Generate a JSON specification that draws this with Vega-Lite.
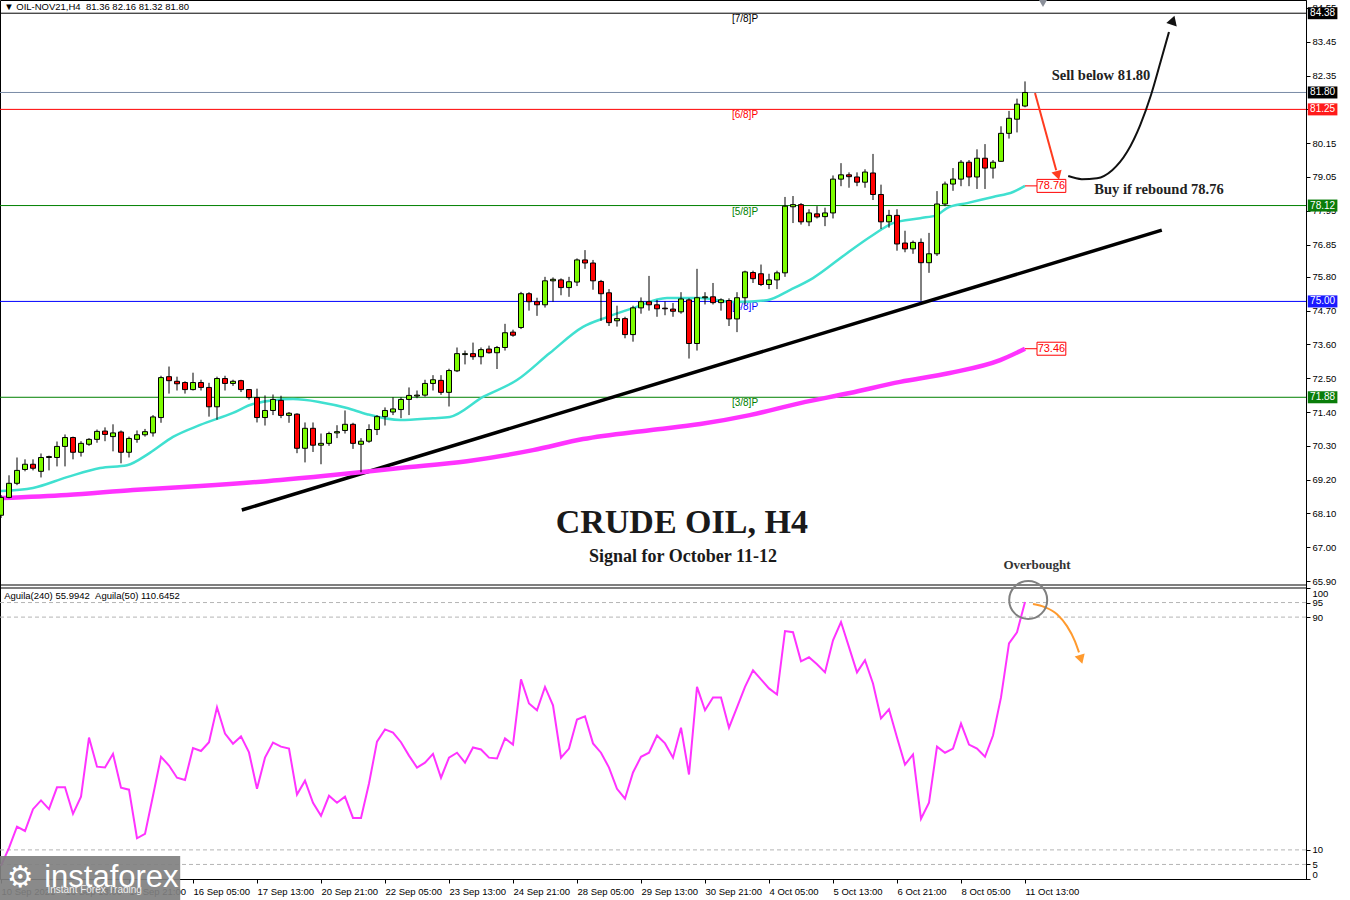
{
"$schema":"https://vega.github.io/schema/vega-lite/v6.json",
"width":1306,
"height":879,
"autosize":{"type":"none"},
"padding":{"left":0,"top":0,"right":44,"bottom":21},
"background":"white",
"config":{"view":{"stroke":"#000000","strokeWidth":1},"axis":{"labelFont":"Liberation Sans","labelFontSize":9.5,"labelColor":"#000000","domainColor":"#000000","tickColor":"#000000","grid":false,"title":null,"tickSize":4,"labelPadding":2,"labelOverlap":false},"text":{"font":"Liberation Sans"}},
"datasets":{
"candles":[
{"k":0,"o":68.04,"h":68.7,"l":67.95,"c":68.62},{"k":1,"o":68.62,"h":69.34,"l":68.59,"c":69.08},{"k":2,"o":69.08,"h":69.92,"l":69.02,"c":69.5},{"k":3,"o":69.53,"h":69.86,"l":69.47,"c":69.7},{"k":4,"o":69.7,"h":69.86,"l":69.5,"c":69.57},{"k":5,"o":69.47,"h":70.05,"l":69.27,"c":69.92},{"k":6,"o":69.92,"h":69.98,"l":69.5,"c":69.95},{"k":7,"o":69.92,"h":70.44,"l":69.63,"c":70.28},{"k":8,"o":70.28,"h":70.67,"l":69.63,"c":70.57},{"k":9,"o":70.57,"h":70.6,"l":69.86,"c":70.09},
{"k":10,"o":70.09,"h":70.45,"l":69.95,"c":70.38},{"k":11,"o":70.35,"h":70.55,"l":70.3,"c":70.51},{"k":12,"o":70.51,"h":70.83,"l":70.4,"c":70.77},{"k":13,"o":70.78,"h":70.9,"l":70.45,"c":70.67},{"k":14,"o":70.6,"h":71.0,"l":70.12,"c":70.72},{"k":15,"o":70.75,"h":70.8,"l":69.73,"c":70.09},{"k":16,"o":70.09,"h":70.6,"l":69.92,"c":70.54},{"k":17,"o":70.51,"h":70.8,"l":70.4,"c":70.66},{"k":18,"o":70.66,"h":70.85,"l":70.6,"c":70.76},{"k":19,"o":70.72,"h":71.3,"l":70.6,"c":71.24},
{"k":20,"o":71.22,"h":72.58,"l":71.05,"c":72.52},{"k":21,"o":72.55,"h":72.88,"l":72.0,"c":72.42},{"k":22,"o":72.4,"h":72.55,"l":72.1,"c":72.32},{"k":23,"o":72.36,"h":72.4,"l":72.0,"c":72.13},{"k":24,"o":72.13,"h":72.68,"l":72.1,"c":72.36},{"k":25,"o":72.36,"h":72.45,"l":72.1,"c":72.2},{"k":26,"o":72.2,"h":72.35,"l":71.25,"c":71.57},{"k":27,"o":71.57,"h":72.55,"l":71.15,"c":72.49},{"k":28,"o":72.49,"h":72.58,"l":72.1,"c":72.33},{"k":29,"o":72.33,"h":72.45,"l":72.25,"c":72.4},
{"k":30,"o":72.42,"h":72.45,"l":72.05,"c":72.13},{"k":31,"o":72.13,"h":72.15,"l":71.8,"c":71.87},{"k":32,"o":71.87,"h":72.16,"l":71.06,"c":71.22},{"k":33,"o":71.22,"h":71.94,"l":70.96,"c":71.45},{"k":34,"o":71.45,"h":71.97,"l":71.3,"c":71.81},{"k":35,"o":71.78,"h":71.93,"l":71.2,"c":71.29},{"k":36,"o":71.29,"h":71.4,"l":71.05,"c":71.36},{"k":37,"o":71.33,"h":71.36,"l":70.06,"c":70.22},{"k":38,"o":70.22,"h":71.06,"l":69.76,"c":70.87},{"k":39,"o":70.87,"h":71.06,"l":70.1,"c":70.32},
{"k":40,"o":70.32,"h":70.7,"l":69.7,"c":70.38},{"k":41,"o":70.38,"h":70.76,"l":70.3,"c":70.7},{"k":42,"o":70.72,"h":70.97,"l":70.55,"c":70.76},{"k":43,"o":70.8,"h":71.45,"l":70.7,"c":71.0},{"k":44,"o":71.0,"h":71.05,"l":70.2,"c":70.38},{"k":45,"o":70.35,"h":70.55,"l":69.44,"c":70.45},{"k":46,"o":70.45,"h":71.0,"l":70.4,"c":70.83},{"k":47,"o":70.83,"h":71.3,"l":70.65,"c":71.25},{"k":48,"o":71.25,"h":71.55,"l":70.96,"c":71.45},{"k":49,"o":71.4,"h":71.88,"l":71.3,"c":71.5},
{"k":50,"o":71.48,"h":71.88,"l":71.2,"c":71.81},{"k":51,"o":71.81,"h":72.2,"l":71.3,"c":71.94},{"k":52,"o":71.92,"h":72.1,"l":71.85,"c":71.95},{"k":53,"o":71.95,"h":72.45,"l":71.9,"c":72.33},{"k":54,"o":72.33,"h":72.6,"l":72.1,"c":72.45},{"k":55,"o":72.43,"h":72.6,"l":71.96,"c":72.04},{"k":56,"o":72.04,"h":72.81,"l":71.58,"c":72.75},{"k":57,"o":72.74,"h":73.5,"l":72.7,"c":73.3},{"k":58,"o":73.27,"h":73.4,"l":72.95,"c":73.3},{"k":59,"o":73.3,"h":73.66,"l":73.1,"c":73.2},
{"k":60,"o":73.2,"h":73.5,"l":72.95,"c":73.43},{"k":61,"o":73.45,"h":73.56,"l":73.3,"c":73.33},{"k":62,"o":73.33,"h":73.55,"l":72.8,"c":73.5},{"k":63,"o":73.5,"h":74.27,"l":73.4,"c":73.98},{"k":64,"o":74.0,"h":74.08,"l":73.85,"c":73.9},{"k":65,"o":74.15,"h":75.31,"l":74.1,"c":75.25},{"k":66,"o":75.25,"h":75.3,"l":74.7,"c":74.99},{"k":67,"o":74.99,"h":75.12,"l":74.53,"c":74.89},{"k":68,"o":74.89,"h":75.8,"l":74.8,"c":75.67},{"k":69,"o":75.67,"h":75.78,"l":74.99,"c":75.72},
{"k":70,"o":75.7,"h":75.75,"l":75.2,"c":75.45},{"k":71,"o":75.45,"h":75.8,"l":75.15,"c":75.64},{"k":72,"o":75.63,"h":76.4,"l":75.5,"c":76.35},{"k":73,"o":76.35,"h":76.67,"l":76.06,"c":76.25},{"k":74,"o":76.25,"h":76.35,"l":75.38,"c":75.67},{"k":75,"o":75.65,"h":75.7,"l":74.37,"c":75.25},{"k":76,"o":75.28,"h":75.4,"l":74.2,"c":74.31},{"k":77,"o":74.37,"h":74.86,"l":74.18,"c":74.44},{"k":78,"o":74.44,"h":74.5,"l":73.8,"c":73.92},{"k":79,"o":73.92,"h":74.86,"l":73.69,"c":74.79},
{"k":80,"o":74.79,"h":75.13,"l":74.6,"c":74.99},{"k":81,"o":74.99,"h":75.83,"l":74.7,"c":74.89},{"k":82,"o":74.89,"h":75.05,"l":74.5,"c":74.76},{"k":83,"o":74.78,"h":75.0,"l":74.55,"c":74.76},{"k":84,"o":74.75,"h":74.95,"l":74.5,"c":74.68},{"k":85,"o":74.66,"h":75.3,"l":74.6,"c":75.08},{"k":86,"o":75.05,"h":75.1,"l":73.14,"c":73.63},{"k":87,"o":73.63,"h":76.06,"l":73.4,"c":75.12},{"k":88,"o":75.12,"h":75.3,"l":74.9,"c":75.15},{"k":89,"o":75.15,"h":75.6,"l":74.9,"c":74.96},
{"k":90,"o":74.96,"h":75.1,"l":74.7,"c":75.05},{"k":91,"o":75.03,"h":75.1,"l":74.2,"c":74.43},{"k":92,"o":74.43,"h":75.3,"l":74.0,"c":75.12},{"k":93,"o":75.12,"h":76.0,"l":74.9,"c":75.96},{"k":94,"o":75.94,"h":76.0,"l":75.6,"c":75.74},{"k":95,"o":75.9,"h":76.2,"l":75.5,"c":75.55},{"k":96,"o":75.55,"h":75.9,"l":75.4,"c":75.7},{"k":97,"o":75.7,"h":76.0,"l":75.4,"c":75.93},{"k":98,"o":75.93,"h":78.4,"l":75.8,"c":78.1},{"k":99,"o":78.08,"h":78.43,"l":77.55,"c":78.15},
{"k":100,"o":78.15,"h":78.2,"l":77.5,"c":77.59},{"k":101,"o":77.59,"h":78.0,"l":77.45,"c":77.88},{"k":102,"o":77.85,"h":78.1,"l":77.7,"c":77.75},{"k":103,"o":77.76,"h":78.05,"l":77.45,"c":77.88},{"k":104,"o":77.88,"h":79.1,"l":77.7,"c":78.98},{"k":105,"o":78.98,"h":79.5,"l":78.75,"c":79.12},{"k":106,"o":79.12,"h":79.2,"l":78.7,"c":79.06},{"k":107,"o":79.05,"h":79.2,"l":78.75,"c":78.88},{"k":108,"o":78.88,"h":79.3,"l":78.7,"c":79.21},{"k":109,"o":79.18,"h":79.8,"l":78.3,"c":78.48},
{"k":110,"o":78.48,"h":78.8,"l":77.36,"c":77.59},{"k":111,"o":77.59,"h":77.98,"l":77.4,"c":77.8},{"k":112,"o":77.8,"h":78.0,"l":76.65,"c":76.87},{"k":113,"o":76.9,"h":77.3,"l":76.6,"c":76.71},{"k":114,"o":76.71,"h":76.98,"l":76.55,"c":76.92},{"k":115,"o":76.92,"h":77.05,"l":75.02,"c":76.26},{"k":116,"o":76.26,"h":77.23,"l":75.93,"c":76.55},{"k":117,"o":76.55,"h":78.59,"l":76.48,"c":78.17},{"k":118,"o":78.17,"h":78.9,"l":78.1,"c":78.82},{"k":119,"o":78.82,"h":79.34,"l":78.6,"c":78.98},
{"k":120,"o":78.98,"h":79.6,"l":78.75,"c":79.53},{"k":121,"o":79.53,"h":79.6,"l":78.75,"c":79.05},{"k":122,"o":79.05,"h":79.95,"l":78.66,"c":79.66},{"k":123,"o":79.66,"h":80.12,"l":78.66,"c":79.34},{"k":124,"o":79.34,"h":79.6,"l":79.0,"c":79.53},{"k":125,"o":79.56,"h":80.7,"l":79.55,"c":80.47},{"k":126,"o":80.47,"h":81.2,"l":80.3,"c":80.96},{"k":127,"o":80.93,"h":81.6,"l":80.5,"c":81.42},{"k":128,"o":81.36,"h":82.16,"l":81.32,"c":81.8}
],
"ema":[{"k":0,"p":68.83},{"k":4,"p":68.93},{"k":8.25,"p":69.28},{"k":12.4,"p":69.58},{"k":15.75,"p":69.67},{"k":18.6,"p":70.07},{"k":21.5,"p":70.59},{"k":24.9,"p":70.98},{"k":29,"p":71.37},{"k":31.5,"p":71.66},{"k":36.5,"p":71.82},{"k":39.9,"p":71.72},{"k":43.25,"p":71.53},{"k":45.75,"p":71.33},{"k":49.9,"p":71.14},{"k":54,"p":71.2},{"k":56.1,"p":71.24},{"k":60.25,"p":71.89},{"k":64.5,"p":72.44},{"k":68.6,"p":73.32},{"k":72.75,"p":74.17},{"k":75.75,"p":74.49},{"k":79,"p":74.78},{"k":83.25,"p":75.11},{"k":87.4,"p":75.11},{"k":91.5,"p":74.98},{"k":95.75,"p":75.04},{"k":98.6,"p":75.37},{"k":101.5,"p":75.76},{"k":105.75,"p":76.57},{"k":109,"p":77.16},{"k":111.5,"p":77.55},{"k":114.9,"p":77.71},{"k":117,"p":77.81},{"k":118.25,"p":78.04},{"k":120.75,"p":78.2},{"k":124,"p":78.4},{"k":126.5,"p":78.56},{"k":128,"p":78.76}],
"ma":[{"k":0,"p":68.6},{"k":8.25,"p":68.7},{"k":16.5,"p":68.86},{"k":24.9,"p":68.99},{"k":33.25,"p":69.15},{"k":41.5,"p":69.35},{"k":49.9,"p":69.58},{"k":58.25,"p":69.8},{"k":66.5,"p":70.16},{"k":72.75,"p":70.52},{"k":81.1,"p":70.81},{"k":87.4,"p":71.01},{"k":93.6,"p":71.3},{"k":99.9,"p":71.69},{"k":106.1,"p":72.02},{"k":112.4,"p":72.38},{"k":118.6,"p":72.67},{"k":124.9,"p":73.09},{"k":128,"p":73.46}],
"osc":[{"k":0,"v":4.5},{"k":1,"v":10.7},{"k":2,"v":18},{"k":3,"v":16.5},{"k":4,"v":24},{"k":5,"v":27},{"k":6,"v":24},{"k":7,"v":31.5},{"k":8,"v":31.5},{"k":9,"v":22.4},{"k":10,"v":28.3},{"k":11,"v":48.6},{"k":12,"v":38.6},{"k":13,"v":38.3},{"k":14,"v":43},{"k":15,"v":31.4},{"k":16,"v":30.7},{"k":17,"v":14},{"k":18,"v":15.5},{"k":19,"v":28.6},{"k":20,"v":42},{"k":21,"v":39},{"k":22,"v":34.8},{"k":23,"v":34},{"k":24,"v":45},{"k":25,"v":44},{"k":26,"v":47},{"k":27,"v":59},{"k":28,"v":50},{"k":29,"v":46.5},{"k":30,"v":49},{"k":31,"v":43.5},{"k":32,"v":31},{"k":33,"v":41.7},{"k":34,"v":46.9},{"k":35,"v":45.5},{"k":36,"v":44.8},{"k":37,"v":29},{"k":38,"v":33.8},{"k":39,"v":26.2},{"k":40,"v":21.7},{"k":41,"v":28.6},{"k":42,"v":26.2},{"k":43,"v":28.3},{"k":44,"v":21},{"k":45,"v":21},{"k":46,"v":32.8},{"k":47,"v":47.2},{"k":48,"v":51.4},{"k":49,"v":50.3},{"k":50,"v":47},{"k":51,"v":42.4},{"k":52,"v":38.3},{"k":53,"v":40},{"k":54,"v":43},{"k":55,"v":34.8},{"k":56,"v":41.7},{"k":57,"v":43.4},{"k":58,"v":40},{"k":59,"v":45.2},{"k":60,"v":44.5},{"k":61,"v":41.7},{"k":62,"v":41.4},{"k":63,"v":48.3},{"k":64,"v":46.2},{"k":65,"v":68.6},{"k":66,"v":60.3},{"k":67,"v":58},{"k":68,"v":66},{"k":69,"v":59.7},{"k":70,"v":41.7},{"k":71,"v":44.8},{"k":72,"v":54.8},{"k":73,"v":55.9},{"k":74,"v":46.6},{"k":75,"v":43.4},{"k":76,"v":38.3},{"k":77,"v":31},{"k":78,"v":27.6},{"k":79,"v":36.6},{"k":80,"v":42},{"k":81,"v":43.4},{"k":82,"v":49.3},{"k":83,"v":46.6},{"k":84,"v":41.7},{"k":85,"v":52},{"k":86,"v":35.9},{"k":87,"v":66},{"k":88,"v":58},{"k":89,"v":62.4},{"k":90,"v":62.4},{"k":91,"v":52},{"k":92,"v":59},{"k":93,"v":66},{"k":94,"v":71.7},{"k":95,"v":68.6},{"k":96,"v":65.5},{"k":97,"v":63.4},{"k":98,"v":85.2},{"k":99,"v":84.8},{"k":100,"v":74.8},{"k":101,"v":76.2},{"k":102,"v":73.8},{"k":103,"v":71},{"k":104,"v":82},{"k":105,"v":88.3},{"k":106,"v":79.7},{"k":107,"v":71},{"k":108,"v":75.2},{"k":109,"v":67.2},{"k":110,"v":55.2},{"k":111,"v":58.3},{"k":112,"v":48.6},{"k":113,"v":39.3},{"k":114,"v":42.8},{"k":115,"v":20.7},{"k":116,"v":26.2},{"k":117,"v":45.5},{"k":118,"v":43.4},{"k":119,"v":44.8},{"k":120,"v":53.4},{"k":121,"v":46.2},{"k":122,"v":44.8},{"k":123,"v":42},{"k":124,"v":49.3},{"k":125,"v":62.4},{"k":126,"v":81},{"k":127,"v":84.8},{"k":128,"v":95.2}],
"levels":[{"level":84.38,"name":"L78","lab":"84.38"},{"level":81.8,"name":"CUR","lab":"81.80"},{"level":81.25,"name":"L68","lab":"81.25"},{"level":78.12,"name":"L58","lab":"78.12"},{"level":75.0,"name":"L48","lab":"75.00"},{"level":71.88,"name":"L38","lab":"71.88"}],
"murrey":[{"level":84.38,"name":"L78","txt":"[7/8]P"},{"level":81.25,"name":"L68","txt":"[6/8]P"},{"level":78.12,"name":"L58","txt":"[5/8]P"},{"level":75.0,"name":"L48","txt":"[4/8]P"},{"level":71.88,"name":"L38","txt":"[3/8]P"}],
"ind":[{"v":78.76,"txt":"78.76"},{"v":73.46,"txt":"73.46"}],
"trend":[{"k":30.1,"p":68.21},{"k":145.1,"p":77.32}],
"redArrow":[{"k":129.25,"p":81.78},{"k":131.9,"p":79.27}],
"blackArrow":[{"k":133.4,"p":79.08},{"k":135.1,"p":78.98},{"k":137,"p":79.01},{"k":138.9,"p":79.27},{"k":140.75,"p":79.86},{"k":142.4,"p":80.74},{"k":143.75,"p":81.72},{"k":145,"p":82.85},{"k":146,"p":83.77}],
"orangeArrow":[{"k":129,"v":94.5},{"k":130.5,"v":93.4},{"k":132,"v":91},{"k":133.25,"v":86.9},{"k":134.25,"v":81.7},{"k":134.75,"v":77.9}],
"oscLevels":[{"v":95},{"v":90},{"v":10},{"v":5}]
},
"resolve":{"scale":{"y":"independent"},"axis":{"y":"independent"}},
"layer":[
{"layer":[
{"data":{"name":"levels"},"mark":{"type":"rule","strokeWidth":1},
 "encoding":{"x":{"datum":-0.125,"type":"quantitative","scale":{"domain":[-0.125,163.125],"nice":false,"zero":false,"padding":0}},"x2":{"datum":163.125},
 "y":{"field":"level","type":"quantitative","scale":{"domain":[65.77,84.81],"range":[585,0],"zero":false,"nice":false,"padding":0},"axis":{"orient":"right","values":[65.9,67,68.1,69.2,70.3,71.4,72.5,73.6,74.7,75.8,76.85,77.95,79.05,80.15,81.25,82.35,83.45,84.55],"tickCount":40,"format":".2f","labelOverlap":false}},
 "color":{"field":"name","type":"nominal","scale":{"domain":["L78","CUR","L68","L58","L48","L38"],"range":["#000000","#7a8ba6","#ff0000","#008000","#0000ff","#008000"]},"legend":null}}},
{"data":{"values":[{}]},"mark":{"type":"rule","color":"#000000","strokeWidth":1},
 "encoding":{"x":{"datum":-0.125},"x2":{"datum":163.125},"y":{"datum":65.77}}},
{"data":{"name":"murrey"},"mark":{"type":"text","baseline":"top","align":"center","dy":1,"fontSize":10},
 "encoding":{"x":{"datum":93},"y":{"field":"level","type":"quantitative"},"text":{"field":"txt"},"color":{"field":"name","type":"nominal","legend":null}}},
{"data":{"name":"trend"},"mark":{"type":"line","color":"#000000","strokeWidth":3.5},
 "encoding":{"x":{"field":"k","type":"quantitative"},"y":{"field":"p","type":"quantitative"}}},
{"data":{"name":"ma"},"mark":{"type":"line","color":"#ff33ff","strokeWidth":4.5,"interpolate":"monotone"},
 "encoding":{"x":{"field":"k","type":"quantitative"},"y":{"field":"p","type":"quantitative"}}},
{"data":{"name":"ema"},"mark":{"type":"line","color":"#40e0d0","strokeWidth":2.5,"interpolate":"monotone"},
 "encoding":{"x":{"field":"k","type":"quantitative"},"y":{"field":"p","type":"quantitative"}}},
{"data":{"name":"candles"},"mark":{"type":"rule","color":"#000000","strokeWidth":1},
 "encoding":{"x":{"field":"k","type":"quantitative"},"y":{"field":"l","type":"quantitative"},"y2":{"field":"h"}}},
{"data":{"name":"candles"},"mark":{"type":"bar","size":5,"stroke":"#000000","strokeWidth":1},
 "encoding":{"x":{"field":"k","type":"quantitative"},"y":{"field":"o","type":"quantitative"},"y2":{"field":"c"},
 "color":{"condition":{"test":"datum.c >= datum.o","value":"#7cfc00"},"value":"#ff0000"}}},
{"data":{"name":"ind"},"mark":{"type":"rule","color":"#ff0000","strokeWidth":1},
 "encoding":{"x":{"datum":128},"x2":{"datum":129.5},"y":{"field":"v","type":"quantitative"}}},
{"data":{"name":"ind"},"mark":{"type":"bar","orient":"horizontal","size":13,"fill":"#ffffff","stroke":"#ff0000","strokeWidth":1},
 "encoding":{"x":{"datum":129.5},"x2":{"datum":133.1},"y":{"field":"v","type":"quantitative"}}},
{"data":{"name":"ind"},"mark":{"type":"text","color":"#ff0000","fontSize":11,"align":"center","baseline":"middle"},
 "encoding":{"x":{"datum":131.3},"y":{"field":"v","type":"quantitative"},"text":{"field":"txt"}}},
{"data":{"name":"levels"},"mark":{"type":"bar","orient":"horizontal","size":12},
 "encoding":{"x":{"datum":163.35},"x2":{"datum":167.05},"y":{"field":"level","type":"quantitative"},
 "fill":{"field":"name","type":"nominal","scale":{"domain":["L78","CUR","L68","L58","L48","L38"],"range":["#000000","#000000","#ff1a1a","#0a7d0a","#1a1aff","#0a7d0a"]},"legend":null}}},
{"data":{"name":"levels"},"mark":{"type":"text","color":"#ffffff","fontSize":10,"align":"center","baseline":"middle"},
 "encoding":{"x":{"datum":165.2},"y":{"field":"level","type":"quantitative"},"text":{"field":"lab"}}},
{"data":{"name":"redArrow"},"mark":{"type":"line","color":"#ff3b1f","strokeWidth":2},
 "encoding":{"x":{"field":"k","type":"quantitative"},"y":{"field":"p","type":"quantitative"}}},
{"data":{"values":[{}]},"mark":{"type":"point","shape":"triangle-down","angle":-16,"filled":true,"size":110,"color":"#ff3b1f","opacity":1},
 "encoding":{"x":{"datum":132.1},"y":{"datum":79.1}}},
{"data":{"name":"blackArrow"},"mark":{"type":"line","color":"#111111","strokeWidth":2,"interpolate":"monotone"},
 "encoding":{"x":{"field":"k","type":"quantitative"},"y":{"field":"p","type":"quantitative"}}},
{"data":{"values":[{}]},"mark":{"type":"point","shape":"triangle-up","angle":18,"filled":true,"size":120,"color":"#111111","opacity":1},
 "encoding":{"x":{"datum":146.5},"y":{"datum":84.15}}},
{"data":{"values":[{"t":"Sell below 81.80","k":137.5,"p":82.33},{"t":"Buy if rebound 78.76","k":144.75,"p":78.62}]},"mark":{"type":"text","font":"Liberation Serif","fontWeight":"bold","fontSize":14.5,"color":"#222222","align":"center","baseline":"middle"},
 "encoding":{"x":{"field":"k","type":"quantitative"},"y":{"field":"p","type":"quantitative"},"text":{"field":"t"}}},
{"data":{"values":[{"t":"CRUDE OIL, H4","k":85.1,"p":67.79}]},"mark":{"type":"text","font":"Liberation Serif","fontWeight":"bold","fontSize":34,"color":"#1a1a1a","align":"center","baseline":"middle"},
 "encoding":{"x":{"field":"k","type":"quantitative"},"y":{"field":"p","type":"quantitative"},"text":{"field":"t"}}},
{"data":{"values":[{"t":"Signal for October 11-12","k":85.25,"p":66.68}]},"mark":{"type":"text","font":"Liberation Serif","fontWeight":"bold","fontSize":18,"color":"#1a1a1a","align":"center","baseline":"middle"},
 "encoding":{"x":{"field":"k","type":"quantitative"},"y":{"field":"p","type":"quantitative"},"text":{"field":"t"}}},
{"data":{"values":[{"t":"Overbought","k":129.5,"p":66.42}]},"mark":{"type":"text","font":"Liberation Serif","fontWeight":"bold","fontSize":13,"color":"#333333","align":"center","baseline":"middle"},
 "encoding":{"x":{"field":"k","type":"quantitative"},"y":{"field":"p","type":"quantitative"},"text":{"field":"t"}}},
{"data":{"values":[{"t":"▼ OIL-NOV21,H4\u00a0\u00a081.36 82.16 81.32 81.80","k":0.4,"p":84.58}]},"mark":{"type":"text","fontSize":9.5,"color":"#000000","align":"left","baseline":"middle"},
 "encoding":{"x":{"field":"k","type":"quantitative"},"y":{"field":"p","type":"quantitative"},"text":{"field":"t"}}},
{"data":{"values":[{}]},"mark":{"type":"point","shape":"triangle-down","filled":true,"size":70,"color":"#8a8f99","opacity":1},
 "encoding":{"x":{"datum":130.25},"y":{"datum":84.7}}}
]},
{"layer":[
{"data":{"name":"oscLevels"},"mark":{"type":"rule","color":"#b4b4b4","strokeDash":[4,3],"strokeWidth":1},
 "encoding":{"x":{"datum":-0.125},"x2":{"datum":163.125},"y":{"field":"v","type":"quantitative","scale":{"domain":[0,100],"range":[879,588],"nice":false,"zero":false,"padding":0},"axis":{"orient":"right","values":[0,5,10,90,95,100],"tickCount":20,"labelOverlap":false,"labelFlush":true}}}},
{"data":{"values":[{}]},"mark":{"type":"rule","color":"#000000","strokeWidth":1},
 "encoding":{"x":{"datum":-0.125},"x2":{"datum":163.125},"y":{"datum":100}}},
{"data":{"name":"osc"},"mark":{"type":"line","color":"#ff33ff","strokeWidth":2},
 "encoding":{"x":{"field":"k","type":"quantitative",
 "axis":{"orient":"bottom","values":[0,8,16,24,32,40,48,56,64,72,80,88,96,104,112,120,128],"tickCount":40,"labelExpr":"['10 Sep 2021','13 Sep 13:00','14 Sep 21:00','16 Sep 05:00','17 Sep 13:00','20 Sep 21:00','22 Sep 05:00','23 Sep 13:00','24 Sep 21:00','28 Sep 05:00','29 Sep 13:00','30 Sep 21:00','4 Oct 05:00','5 Oct 13:00','6 Oct 21:00','8 Oct 05:00','11 Oct 13:00'][datum.value/8]","labelAlign":"left","labelPadding":3,"labelOverlap":false,"labelFlush":false}},
 "y":{"field":"v","type":"quantitative"}}},
{"data":{"values":[{"t":"Aguila(240) 55.9942\u00a0\u00a0Aguila(50) 110.6452"}]},"mark":{"type":"text","fontSize":9.5,"color":"#000000","align":"left","baseline":"middle"},
 "encoding":{"x":{"datum":0.4},"y":{"datum":97.2},"text":{"field":"t"}}},
{"data":{"name":"orangeArrow"},"mark":{"type":"line","color":"#ff9a2e","strokeWidth":2,"interpolate":"monotone"},
 "encoding":{"x":{"field":"k","type":"quantitative"},"y":{"field":"v","type":"quantitative"}}},
{"data":{"values":[{}]},"mark":{"type":"point","shape":"triangle-down","angle":-17,"filled":true,"size":110,"color":"#ff9a2e","opacity":1},
 "encoding":{"x":{"datum":135.0},"y":{"datum":75.5}}},
{"data":{"values":[{}]},"mark":{"type":"point","shape":"circle","filled":false,"size":1444,"color":"#808080","strokeWidth":2,"opacity":1},
 "encoding":{"x":{"datum":128.4},"y":{"datum":95.9}}},
{"data":{"values":[{}]},"mark":{"type":"rect","color":"#808080","opacity":0.92},
 "encoding":{"x":{"datum":-0.125},"x2":{"datum":22.4},"y":{"datum":7.9},"y2":{"datum":-7.6}}},
{"data":{"values":[{"t":"instaforex"}]},"mark":{"type":"text","fontSize":31,"color":"#ffffff","align":"left","baseline":"middle"},
 "encoding":{"x":{"datum":5.4},"y":{"datum":0.5},"text":{"field":"t"}}},
{"data":{"values":[{"t":"⚙"}]},"mark":{"type":"text","font":"DejaVu Sans","fontSize":30,"color":"#ffffff","align":"center","baseline":"middle"},
 "encoding":{"x":{"datum":2.4},"y":{"datum":0.5},"text":{"field":"t"}}},
{"data":{"values":[{"t":"Instant Forex Trading"}]},"mark":{"type":"text","fontSize":10,"color":"#eeeeee","align":"left","baseline":"middle"},
 "encoding":{"x":{"datum":5.8},"y":{"datum":-3.8},"text":{"field":"t"}}}
]}
]
}
